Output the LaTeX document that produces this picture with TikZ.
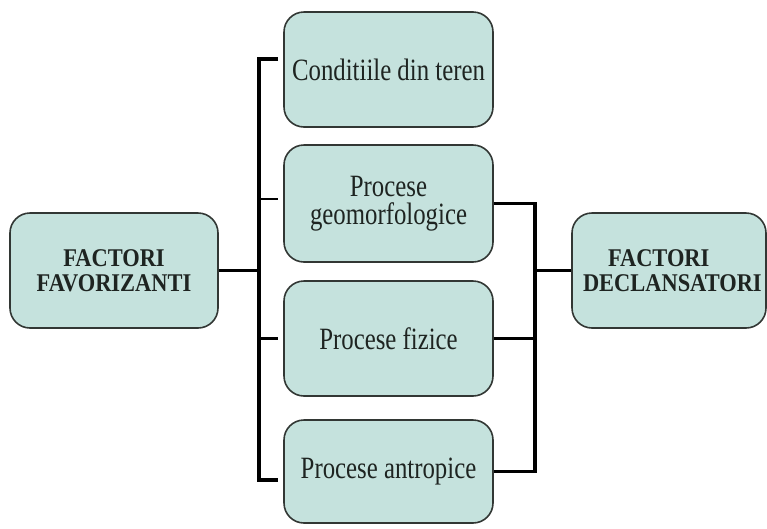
\documentclass[tikz,border=0pt]{standalone}
\usepackage{fontspec}
\setmainfont{Liberation Serif}
\newfontfamily\procfont[FakeStretch=0.8]{Liberation Serif}
\newfontfamily\factorfont[FakeStretch=0.88]{Liberation Serif}
\usepackage{xcolor}
\usepackage{tikz}
\usetikzlibrary{positioning, calc}
\definecolor{boxfill}{RGB}{197, 226, 221}
\definecolor{boxline}{RGB}{50, 55, 52}
\definecolor{textdark}{RGB}{30, 36, 33}
\tikzset{
    factorbox/.style={
        draw=boxline, line width=1.6pt, fill=boxfill, rounded corners=20pt,
        minimum width=208pt, minimum height=115pt, inner sep=0pt, align=center,
        text=textdark, font=\factorfont\fontsize{25.5}{25}\selectfont\bfseries
    },
    procbox/.style={
        draw=boxline, line width=1.6pt, fill=boxfill, rounded corners=20pt,
        minimum width=209pt, minimum height=115pt, inner sep=0pt, align=center,
        text=textdark, font=\procfont\fontsize{31}{28}\selectfont
    },
    bracket/.style={
        line width=3.8pt, black, line join=miter
    },
    link/.style={
        line width=3pt, black
    },
    tick/.style={
        line width=2.4pt, black
    }
}

\begin{document}
\begin{tikzpicture}[x=1pt, y=-1pt]

        \useasboundingbox (0,0) rectangle (767,528);

        % ======================================
        % CUTIA DIN STANGA
        % ======================================
        \node[factorbox] (fav) at (114,270.5) {FACTORI\\FAVORIZANTI};

        % ======================================
        % PROCESELE (COLOANA DIN MIJLOC)
        % ======================================
        \node[procbox] (cond) at (388.5,69.5) {Conditiile din teren};
        \node[procbox, minimum height=117pt] (geo) at (388.5,203.5) {Procese\\geomorfologice};
        \node[procbox] (fiz) at (388.5,338.5) {Procese fizice};
        \node[procbox, minimum height=103pt] (antr) at (388.5,471.5) {Procese antropice};

        % ======================================
        % CUTIA DIN DREAPTA
        % ======================================
        \node[factorbox, minimum width=194pt, text width=190pt, align=left] (decl) at (669,270.5) {\hspace*{34pt}FACTORI\\\hspace*{9pt}DECLANSATORI};

        % Acolada stanga
        \coordinate (lbar) at (259,0);
        \coordinate (ltop) at (278,59);
        \draw[bracket] (ltop) -- (lbar |- ltop) |- (278,480);
        \draw[link] (fav.east) -- (fav.east -| lbar);
        \draw[tick] (lbar |- 0,199) -- ++(19,0);
        \draw[tick] (lbar |- fiz.west) -- ++(19,0);

        % Acolada dreapta
        \coordinate (rbar) at (535,0);
        \draw[bracket] (geo.east) -| (rbar |- antr.east) -- (antr.east);
        \draw[link] (fiz.east) -- (fiz.east -| rbar);
        \draw[link] (rbar |- decl.west) -- (decl.west);

    \end{tikzpicture}
\end{document}
